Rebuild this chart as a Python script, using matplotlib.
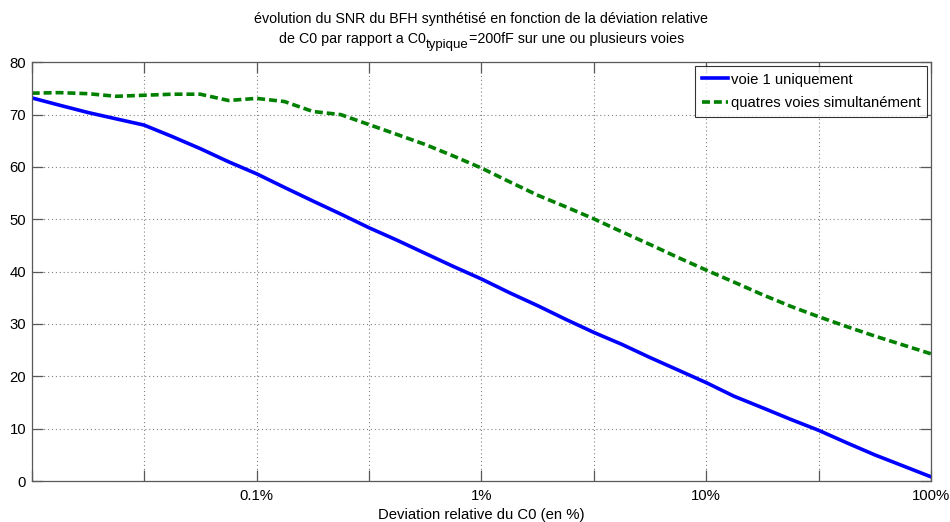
import matplotlib
matplotlib.use("Agg")
import matplotlib.pyplot as plt
from matplotlib.ticker import FixedLocator, FixedFormatter, NullLocator

plt.rcParams['font.family'] = ['Liberation Sans', 'DejaVu Sans']

# Data (deviation in %, SNR)
deviation_pct = [0.01, 0.0133, 0.0178, 0.0237, 0.0316, 0.0422, 0.0562, 0.075,
                 0.1, 0.133, 0.178, 0.237, 0.316, 0.422, 0.562, 0.75,
                 1.0, 1.33, 1.78, 2.37, 3.16, 4.22, 5.62, 7.5,
                 10.0, 13.3, 17.8, 23.7, 31.6, 42.2, 56.2, 75.0, 100.0]
snr_voie1 = [73.2, 71.8, 70.4, 69.2, 68.0, 65.8, 63.5, 61.0,
             58.7, 56.1, 53.5, 51.0, 48.4, 46.0, 43.5, 41.0,
             38.6, 36.0, 33.5, 30.9, 28.4, 26.1, 23.6, 21.2,
             18.8, 16.2, 14.0, 11.8, 9.7, 7.3, 5.0, 2.9, 0.8]
snr_4voies = [74.1, 74.2, 74.0, 73.5, 73.7, 73.9, 73.9, 72.7,
              73.1, 72.5, 70.6, 70.0, 68.1, 66.2, 64.3, 62.1,
              59.8, 57.2, 54.6, 52.4, 50.1, 47.6, 45.2, 42.7,
              40.3, 38.0, 35.6, 33.4, 31.4, 29.5, 27.7, 26.0, 24.3]

x_ticks = [0.01, 0.0316, 0.1, 0.316, 1, 3.16, 10, 31.6, 100]
x_tick_labels = ['', '', '0.1%', '', '1%', '', '10%', '', '100%']
y_ticks = [0, 10, 20, 30, 40, 50, 60, 70, 80]

title_line1 = "évolution du SNR du BFH synthétisé en fonction de la déviation relative"
title_line2_a = "de C0 par rapport a C0"
title_line2_sub = "typique"
title_line2_b = "=200fF sur une ou plusieurs voies"

W, H = 950, 522
fig = plt.figure(figsize=(W / 100, H / 100), dpi=100)
ax = fig.add_axes([0.0334, 0.0785, 0.9466, 0.8022])

ax.plot(deviation_pct, snr_voie1, color='#0000ff', lw=2.6, label='voie 1 uniquement')
ax.plot(deviation_pct, snr_4voies, color='#008000', lw=2.6, linestyle=(0, (2.2, 1.1)),
        label='quatres voies simultanément')

ax.set_xscale('log')
ax.set_xlim(0.01, 100)
ax.set_ylim(0, 80)
ax.xaxis.set_major_locator(FixedLocator(x_ticks))
ax.xaxis.set_major_formatter(FixedFormatter(x_tick_labels))
ax.xaxis.set_minor_locator(NullLocator())
ax.set_yticks(y_ticks)

ax.grid(True, which='major', color='0.5', linestyle=(0, (1, 2.5)), linewidth=0.8)
ax.tick_params(direction='in', length=8, width=0.9, color='0.35', labelsize=10.7,
               top=True, right=True, pad=4)
ax.tick_params(axis='x', pad=6)
for s in ax.spines.values():
    s.set_color('0.35')
    s.set_linewidth(0.9)

ax.set_xlabel('Deviation relative du C0 (en %)', fontsize=10.7, labelpad=3)

leg = ax.legend(loc='upper right', fontsize=10.7, frameon=True, fancybox=False,
                edgecolor='black', handlelength=1.75, handletextpad=0.2,
                borderaxespad=0.25, borderpad=0.45, labelspacing=0.65)
leg.get_frame().set_linewidth(0.8)

# Title (two lines, with a manual subscript)
xc = (0.0334 + 0.0334 + 0.9466) / 2
fs_title = 10.3
fs_sub = 9.5
fig.text(xc, 1 - 23 / H, title_line1, ha='center', va='baseline', fontsize=fs_title)
ta = fig.text(0, 1 - 43 / H, title_line2_a, ha='left', va='baseline', fontsize=fs_title)
ts = fig.text(0, 1 - 48 / H, title_line2_sub, ha='left', va='baseline', fontsize=fs_sub)
tb = fig.text(0, 1 - 43 / H, title_line2_b, ha='left', va='baseline', fontsize=fs_title)
fig.canvas.draw()
r = fig.canvas.get_renderer()
wa = ta.get_window_extent(r).width
ws = ts.get_window_extent(r).width
wb = tb.get_window_extent(r).width
total = wa + ws + wb
x0 = xc * W - total / 2
ta.set_x(x0 / W)
ts.set_x((x0 + wa) / W)
tb.set_x((x0 + wa + ws) / W)

fig.savefig('out.png', dpi=100)
